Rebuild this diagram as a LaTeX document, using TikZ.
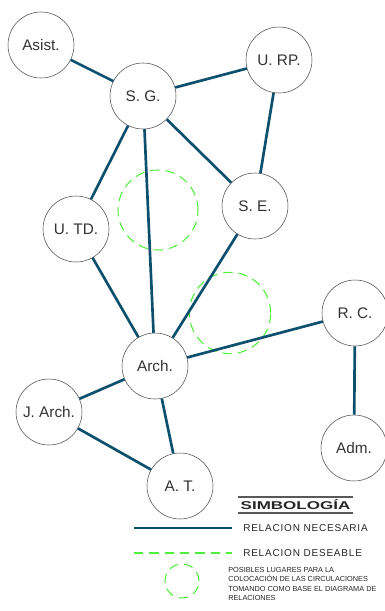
\documentclass[tikz,border=0pt]{standalone}
\usepackage{fontspec}
\setmainfont{Liberation Sans}
\usepackage{graphicx}
\usetikzlibrary{shapes}
\definecolor{relblue}{RGB}{12,80,110}
\definecolor{relgreen}{RGB}{80,240,60}
\tikzstyle{area} = [draw=black!70, circle, minimum size=49.5pt, inner sep=0pt, font=\fontsize{11.5}{13}\selectfont, text=black!80]
\tikzstyle{nec} = [draw=relblue, line width=2pt]
\tikzstyle{des} = [draw=relgreen, line width=0.8pt, dash pattern=on 7pt off 4.5pt]
\tikzstyle{legtext} = [anchor=west, inner sep=0pt, text=black!85]

\begin{document}
\begin{tikzpicture}[x=0.75pt,y=-0.75pt]
\useasboundingbox (0,0) rectangle (385,611);
% posibles circulaciones
\draw[des] (158,210) circle (30pt);
\draw[des] (230,313) circle (30.5pt);
% areas
\node[area] (asist) at (41,45) {Asist.};
\node[area] (sg) at (143,96) {S. G.};
\node[area] (urp) at (279,60) {U. RP.};
\node[area] (se) at (255,206) {S. E.};
\node[area] (utd) at (76,229) {U. TD.};
\node[area] (arch) at (155,366) {Arch.};
\node[area] (rc) at (355,313) {R. C.};
\node[area] (adm) at (354,448) {Adm.};
\node[area] (jarch) at (49,412) {J. Arch.};
\node[area] (at) at (180,486) {A. T.};
% relaciones necesarias
\draw[nec] (asist) -- (sg);
\draw[nec] (sg) -- (urp);
\draw[nec] (sg) -- (se);
\draw[nec] (sg) -- (utd);
\draw[nec] (sg) -- (arch);
\draw[nec] (urp) -- (se);
\draw[nec] (se) -- (arch);
\draw[nec] (utd) -- (arch);
\draw[nec] (arch) -- (rc);
\draw[nec] (rc) -- (adm);
\draw[nec] (arch) -- (jarch);
\draw[nec] (arch) -- (at);
\draw[nec] (jarch) -- (at);
% simbologia
\draw[black!65, line width=0.8pt] (238,497) -- (353,497);
\draw[black!65, line width=0.8pt] (238,513) -- (353,513);
\node[inner sep=0pt, text=black!85] (simb) at (295.5,505) {\scalebox{1.5}[1]{\fontsize{8.5}{10}\selectfont\bfseries SIMBOLOGÍA}};
\coordinate (n1) at (134,528);
\coordinate (n2) at (232,528);
\draw[nec] (n1) -- (n2);
\node[legtext, font=\fontsize{7.5}{9}\selectfont\addfontfeatures{LetterSpace=8}] (tnec) at (243,528) {RELACION NECESARIA};
\coordinate (d1) at (134,553);
\coordinate (d2) at (232,553);
\draw[des] (d1) -- (d2);
\node[legtext, font=\fontsize{7.5}{9}\selectfont\addfontfeatures{LetterSpace=8}] (tdes) at (243,553) {RELACION DESEABLE};
\draw[des] (182,581) circle (12.75pt);
\node[legtext, align=left, font=\fontsize{5.5}{7}\selectfont] (tcirc) at (228,584) {POSIBLES LUGARES PARA LA\\COLOCACIÓN DE LAS CIRCULACIONES\\TOMANDO COMO BASE EL DIAGRAMA DE\\RELACIONES};
\end{tikzpicture}
\end{document}
